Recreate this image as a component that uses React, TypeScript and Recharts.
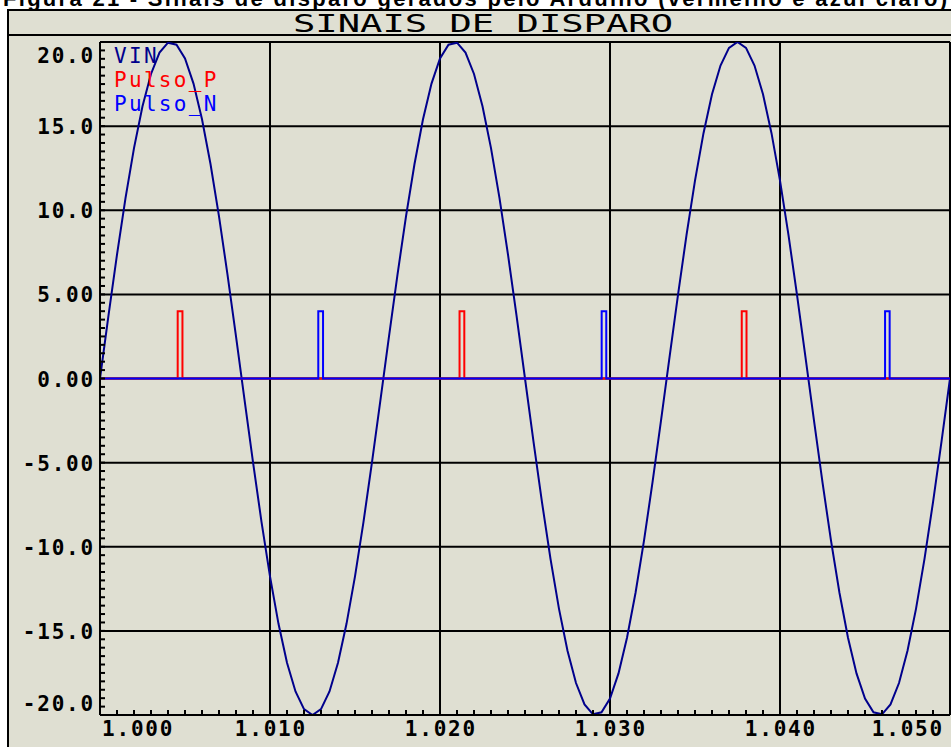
import React from 'react';
import { LineChart, Line, XAxis, YAxis, ReferenceLine, Legend } from 'recharts';

// ── Data ──────────────────────────────────────────────────────────────────────

const VIN_T0 = 1.0;
const VIN_STEP = 0.0005;
const VIN_VALUES = [
  0, 3.75, 7.36, 10.72, 13.69, 16.18, 18.1, 19.37, 19.96, 19.84,
  19.02, 17.53, 15.41, 12.75, 9.64, 6.18, 2.51, -1.26, -4.97, -8.52,
  -11.76, -14.58, -16.89, -18.6, -19.65, -20.0, -19.65, -18.6, -16.89, -14.58,
  -11.76, -8.52, -4.97, -1.26, 2.51, 6.18, 9.64, 12.75, 15.41, 17.53,
  19.02, 19.84, 19.96, 19.37, 18.1, 16.18, 13.69, 10.72, 7.36, 3.75,
  0, -3.75, -7.36, -10.72, -13.69, -16.18, -18.1, -19.37, -19.96, -19.84,
  -19.02, -17.53, -15.41, -12.75, -9.64, -6.18, -2.51, 1.26, 4.97, 8.52,
  11.76, 14.58, 16.89, 18.6, 19.65, 20.0, 19.65, 18.6, 16.89, 14.58,
  11.76, 8.52, 4.97, 1.26, -2.51, -6.18, -9.64, -12.75, -15.41, -17.53,
  -19.02, -19.84, -19.96, -19.37, -18.1, -16.18, -13.69, -10.72, -7.36, -3.75,
  0,
];

const PULSO_P_TIME = [
  1.0, 1.00457, 1.00457, 1.00485, 1.00485,
  1.02115, 1.02115, 1.02143, 1.02143,
  1.03775, 1.03775, 1.03803, 1.03803, 1.05,
];
const PULSO_P_VALUE = [0, 0, 4, 4, 0, 0, 4, 4, 0, 0, 4, 4, 0, 0];

const PULSO_N_TIME = [
  1.0, 1.01284, 1.01284, 1.01312, 1.01312,
  1.02951, 1.02951, 1.02978, 1.02978,
  1.04618, 1.04618, 1.04645, 1.04645, 1.05,
];
const PULSO_N_VALUE = [0, 0, 4, 4, 0, 0, 4, 4, 0, 0, 4, 4, 0, 0];

const X_DOMAIN: [number, number] = [1.0, 1.05];
const Y_DOMAIN: [number, number] = [-20, 20];
const X_GRID = [1.01, 1.02, 1.03, 1.04];
const Y_GRID = [15, 10, 5, 0, -5, -10, -15];
const X_LABELS = ['1.000', '1.010', '1.020', '1.030', '1.040', '1.050'];
const Y_LABELS = ['-20.0', '-15.0', '-10.0', '-5.00', '0.00', '5.00', '10.0', '15.0', '20.0'];

const SERIES = [
  { name: 'VIN', color: '#00008c' },
  { name: 'Pulso_P', color: '#ff0000' },
  { name: 'Pulso_N', color: '#0000ff' },
];

// ── Styling ───────────────────────────────────────────────────────────────────

const BG = '#dfdfd2';
const MONO = '"DejaVu Sans Mono", monospace';

// minor ticks: 0.001 s on x, 0.5 on y; every 10th carries a label
const X_TICKS = Array.from({ length: 51 }, (_, i) => +(1 + i * 0.001).toFixed(3));
const Y_TICKS = Array.from({ length: 81 }, (_, i) => -20 + i * 0.5);

const vinData = VIN_VALUES.map((v, i) => ({ t: +(VIN_T0 + i * VIN_STEP).toFixed(4), v }));
const pulsoPData = PULSO_P_TIME.map((t, i) => ({ t, v: PULSO_P_VALUE[i] }));
const pulsoNData = PULSO_N_TIME.map((t, i) => ({ t, v: PULSO_N_VALUE[i] }));

// ── Ticks ─────────────────────────────────────────────────────────────────────

const tickText = {
  fontFamily: MONO,
  fontSize: 21,
  fontWeight: 700,
  letterSpacing: 1.8,
  fill: '#000',
};

const XTick = (props: any) => {
  const { x, y, index } = props;
  const major = index % 10 === 0;
  const li = index / 10;
  let anchor: 'start' | 'middle' | 'end' = 'middle';
  let tx = x + 0.9;
  if (li === 0) { anchor = 'start'; tx = x + 2; }
  if (li === X_LABELS.length - 1) { anchor = 'end'; tx = x - 6; }
  return (
    <g>
      <line x1={x} y1={y} x2={x} y2={y - 5} stroke="#000" strokeWidth={2} />
      {major && (
        <text x={tx} y={y + 21} textAnchor={anchor} style={tickText}>
          {X_LABELS[li]}
        </text>
      )}
    </g>
  );
};

const YTick = (props: any) => {
  const { x, y, index } = props;
  const major = index % 10 === 0;
  const li = index / 10;
  let dy = 0;
  if (li === Y_LABELS.length - 1) dy = 13;
  if (li === 0) dy = -12;
  return (
    <g>
      <line x1={x} y1={y} x2={x + 5} y2={y} stroke="#000" strokeWidth={2} />
      {major && (
        <text x={x - 5} y={y + dy + 8} textAnchor="end" style={tickText}>
          {Y_LABELS[li]}
        </text>
      )}
    </g>
  );
};

const LegendBox = () => (
  <div style={{ fontFamily: MONO, fontSize: 21, letterSpacing: 2.3, lineHeight: '24px' }}>
    {SERIES.map((s) => (
      <div key={s.name} style={{ color: s.color, whiteSpace: 'nowrap' }}>{s.name}</div>
    ))}
  </div>
);

// ── Main ──────────────────────────────────────────────────────────────────────

export default function App() {
  return (
    <div
      style={{
        position: 'absolute', left: 0, top: 0, width: 951, height: 747,
        overflow: 'hidden', background: '#fff',
      }}
    >
      {/* outer frame + header band */}
      <div
        style={{
          position: 'absolute', left: 7, top: 9, width: 2000, height: 2000,
          border: '2px solid #000', background: BG,
        }}
      />
      <div style={{ position: 'absolute', left: 7, top: 34, width: 2000, height: 2, background: '#000' }} />

      <svg width={951} height={40} style={{ position: 'absolute', left: 0, top: 0 }}>
        <text
          x={3} y={6} textLength={944} lengthAdjust="spacing"
          style={{ fontFamily: '"Liberation Sans", Arial, sans-serif', fontWeight: 700, fontSize: 22, fill: '#000' }}
        >
          Figura 21 - Sinais de disparo gerados pelo Arduino (vermelho e azul claro)
        </text>
        <text
          x={293} y={32} textLength={380} lengthAdjust="spacingAndGlyphs"
          style={{ fontFamily: MONO, fontSize: 24, fill: '#000' }}
        >
          SINAIS DE DISPARO
        </text>
      </svg>

      <div style={{ position: 'absolute', left: 0, top: 0 }}>
        <LineChart
          width={951}
          height={747}
          margin={{ top: 42, right: 1, bottom: 0, left: 0 }}
        >
          <XAxis
            dataKey="t"
            type="number"
            domain={X_DOMAIN}
            ticks={X_TICKS}
            interval={0}
            allowDataOverflow
            height={32}
            tickSize={0}
            tickMargin={0}
            tickLine={false}
            axisLine={{ stroke: '#000', strokeWidth: 2 }}
            tick={<XTick />}
          />
          <YAxis
            type="number"
            domain={Y_DOMAIN}
            ticks={Y_TICKS}
            interval={0}
            allowDataOverflow
            width={100}
            tickSize={0}
            tickMargin={0}
            tickLine={false}
            axisLine={{ stroke: '#000', strokeWidth: 2 }}
            tick={<YTick />}
          />

          {/* grid + plot border */}
          {X_GRID.map((v) => (
            <ReferenceLine key={`gx${v}`} x={v} stroke="#000" strokeWidth={2} />
          ))}
          {Y_GRID.map((v) => (
            <ReferenceLine key={`gy${v}`} y={v} stroke="#000" strokeWidth={2} />
          ))}
          <ReferenceLine y={Y_DOMAIN[1]} stroke="#000" strokeWidth={2} />
          <ReferenceLine x={X_DOMAIN[1]} stroke="#000" strokeWidth={2} />

          <Legend
            layout="vertical"
            align="center"
            verticalAlign="middle"
            content={<LegendBox />}
            wrapperStyle={{ left: 114, top: 44, width: 200, height: 80 }}
          />

          <Line
            data={vinData}
            dataKey="v"
            name="VIN"
            type="linear"
            stroke={SERIES[0].color}
            strokeWidth={2}
            dot={false}
            isAnimationActive={false}
          />
          <Line
            data={pulsoPData}
            dataKey="v"
            name="Pulso_P"
            type="linear"
            stroke={SERIES[1].color}
            strokeWidth={2}
            dot={false}
            isAnimationActive={false}
          />
          <Line
            data={pulsoNData}
            dataKey="v"
            name="Pulso_N"
            type="linear"
            stroke={SERIES[2].color}
            strokeWidth={2}
            dot={false}
            isAnimationActive={false}
          />
        </LineChart>
      </div>
    </div>
  );
}
